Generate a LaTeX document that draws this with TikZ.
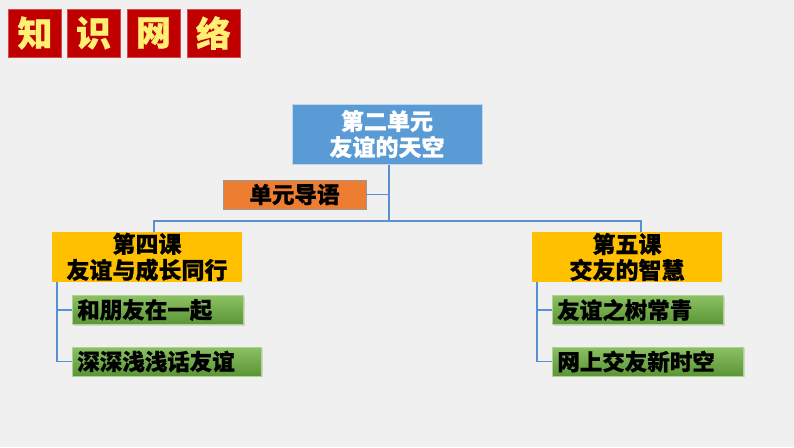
\documentclass[tikz,border=0pt]{standalone}
\usepackage{fontspec}
\setmainfont{Noto Sans CJK SC}[BoldFeatures={FakeBold=0.6}]
\usetikzlibrary{shadows}
\definecolor{bg}{HTML}{F0F0F0}
\definecolor{titlered}{HTML}{C00000}
\definecolor{titletext}{HTML}{FFEF73}
\definecolor{mainblue}{HTML}{5B9BD5}
\definecolor{lineblue}{HTML}{5B8FCF}
\definecolor{lessonyellow}{HTML}{FFC000}
\definecolor{introorange}{HTML}{ED7D31}
\definecolor{greentop}{HTML}{8CC163}
\definecolor{greenbot}{HTML}{5A9535}
\tikzset{
  titlebox/.style={fill=titlered, draw=titlered!70, line width=0.6pt, minimum width=53pt, minimum height=48pt, inner sep=0pt,
    text=titletext, font=\fontsize{35}{35}\selectfont\bfseries},
  mainbox/.style={fill=mainblue, draw=mainblue!40!white, line width=1pt, minimum width=190pt, minimum height=60pt, inner sep=0pt,
    text=white, align=center, font=\fontsize{23}{26}\selectfont\bfseries},
  lessonbox/.style={fill=lessonyellow, minimum width=190pt, minimum height=50pt, inner sep=0pt,
    text=black, align=center, font=\fontsize{23}{26}\selectfont\bfseries},
  introbox/.style={fill=introorange, draw=gray!80, line width=0.8pt, minimum width=143pt, minimum height=29pt, inner sep=0pt,
    text=black, font=\fontsize{22.5}{26}\selectfont\bfseries},
  topicbox/.style={top color=greentop, bottom color=greenbot, draw=greentop!70!white, line width=0.6pt, minimum height=29pt, inner sep=0pt,
    text=black, anchor=west, text width=#1, inner xsep=5pt, align=left, font=\fontsize{22.5}{24}\selectfont\bfseries,
    drop shadow={shadow xshift=1.2pt, shadow yshift=-1.2pt, opacity=0.25}},
  link/.style={draw=lineblue, line width=1.3pt},
}
\begin{document}
\begin{tikzpicture}[x=1pt,y=-1pt]
\fill[bg] (0,0) rectangle (794,447);
\useasboundingbox (0,0) rectangle (794,447);
% title
\node[titlebox] (t1) at (35,33) {知};
\node[titlebox] (t2) at (93.5,33) {识};
\node[titlebox] (t3) at (153.5,33) {网};
\node[titlebox] (t4) at (213.5,33) {络};
% main
\node[mainbox] (main) at (387,134) {第二单元\\友谊的天空};
\node[introbox] (intro) at (294.5,194.5) {单元导语};
\node[lessonbox] (l4) at (147,257) {第四课\\友谊与成长同行};
\node[lessonbox] (l5) at (627,257) {第五课\\交友的智慧};
\node[topicbox=161pt] (g1) at (72,310) {和朋友在一起};
\node[topicbox=179pt] (g2) at (72,361.5) {深深浅浅话友谊};
\node[topicbox=161pt] (g3) at (552,310) {友谊之树常青};
\node[topicbox=181pt] (g4) at (552,361.5) {网上交友新时空};
% connectors
\coordinate (hub) at (389,221);
\coordinate (jl) at (154,221);
\coordinate (jr) at (641,221);
\coordinate (sl) at (57,282);
\coordinate (sr) at (537,282);
\draw[link] (main.south -| hub) -- (hub);
\draw[link] (intro.east) -- (intro.east -| hub);
\draw[link] (jl |- l4.north) -- (jl) -- (jr) -- (jr |- l5.north);
\draw[link] (sl) |- (g1.west);
\draw[link] (sl) |- (g2.west);
\draw[link] (sr) |- (g3.west);
\draw[link] (sr) |- (g4.west);
\end{tikzpicture}
\end{document}
